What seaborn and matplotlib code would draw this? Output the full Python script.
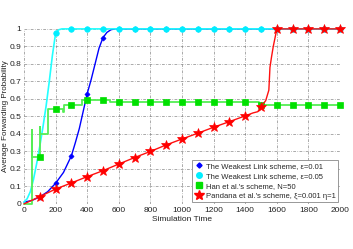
import matplotlib
matplotlib.use('Agg')
import matplotlib.pyplot as plt
from matplotlib.lines import Line2D
import seaborn as sns

# The Weakest Link scheme, eps=0.01
wl1_t = [0, 50, 100, 150, 200, 250, 300, 325, 350, 375, 400, 425, 450, 475, 500, 525, 550, 575,
         600, 700, 800, 900, 1000, 1100, 1200, 1300, 1400, 1500, 1600, 1700, 1800, 1900, 2000]
wl1_p = [0.01, 0.02, 0.04, 0.07, 0.118, 0.18, 0.275, 0.35, 0.43, 0.53, 0.63, 0.71, 0.80, 0.89, 0.95, 0.98, 0.995, 1.0,
         1, 1, 1, 1, 1, 1, 1, 1, 1, 1, 1, 1, 1, 1, 1]

# The Weakest Link scheme, eps=0.05
wl5_t = [0, 20, 40, 60, 80, 100, 120, 140, 160, 180, 200, 220, 240, 300, 400, 500, 600, 700, 800,
         900, 1000, 1100, 1200, 1300, 1400, 1500, 1600, 1700, 1800, 1900, 2000]
wl5_p = [0.01, 0.03, 0.07, 0.14, 0.23, 0.33, 0.44, 0.56, 0.70, 0.85, 0.975, 0.995, 1, 1, 1, 1, 1, 1, 1,
         1, 1, 1, 1, 1, 1, 1, 1, 1, 1, 1, 1]

# Han et al.'s scheme, N=50
han_t = [0, 50, 50, 53, 53, 100, 100, 103, 103, 150, 150, 200, 250, 250, 255, 255, 300, 365, 365, 400,
         500, 545, 545, 600, 700, 800, 900, 1000, 1100, 1200, 1300, 1400, 1490, 1490, 1500, 1600, 1700,
         1800, 1900, 2000]
han_p = [0, 0, 0.42, 0.42, 0.266, 0.266, 0.44, 0.44, 0.40, 0.40, 0.545, 0.545, 0.545, 0.524, 0.524, 0.568, 0.568,
         0.568, 0.594, 0.594, 0.594, 0.594, 0.585, 0.585, 0.585, 0.585, 0.585, 0.585, 0.585, 0.585, 0.585, 0.585,
         0.585, 0.566, 0.566, 0.566, 0.566, 0.566, 0.566, 0.566]

# Pandana et al.'s scheme
pan_t = [0, 100, 200, 300, 400, 500, 600, 700, 800, 900, 1000, 1100, 1200, 1300, 1400, 1450, 1480, 1500,
         1530, 1550, 1557, 1567, 1578, 1595, 1610, 1600, 1700, 1800, 1900, 2000]
pan_p = [0, 0.042, 0.085, 0.12, 0.156, 0.19, 0.228, 0.265, 0.30, 0.337, 0.371, 0.404, 0.438, 0.47, 0.503,
         0.52, 0.527, 0.556, 0.59, 0.65, 0.78, 0.84, 0.90, 0.975, 1.0, 1, 1, 1, 1, 1]

labels = ['The Weakest Link scheme, \u03b5=0.01',
          'The Weakest Link scheme, \u03b5=0.05',
          "Han et al.'s scheme, N=50",
          "Pandana et al.'s scheme, \u03be=0.001 \u03b7=1"]

x_ticks = list(range(0, 2001, 200))
y_ticks = [i / 10 for i in range(11)]
y_tick_labels = ['0', '0.1', '0.2', '0.3', '0.4', '0.5', '0.6', '0.7', '0.8', '0.9', '1']


def mark_idx(ts, start):
    seen = set()
    idx = []
    for i, t in enumerate(ts):
        if t % 100 == 0 and t >= start and t not in seen:
            seen.add(t)
            idx.append(i)
    return idx


def main():
    sns.set_style('white')
    plt.rcParams['font.family'] = ['Liberation Sans', 'DejaVu Sans']
    fig = plt.figure(figsize=(3.53, 2.49), dpi=100)
    ax = fig.add_axes([0.068, 0.181, 0.895, 0.703])

    series = [
        (wl1_t, wl1_p, '#0000ff', '#0000ff', 'D', 2.6, 1.0, 100),
        (wl5_t, wl5_p, '#22ffff', '#00eeff', 'o', 4.0, 1.2, 200),
        (han_t, han_p, '#55ee55', '#00e000', 's', 3.8, 1.3, 100),
        (pan_t, pan_p, '#ff1010', '#ff0000', '*', 7.5, 1.0, 100),
    ]
    for t, p, lc, mc, mk, ms, lw, start in series:
        sns.lineplot(x=t, y=p, ax=ax, estimator=None, sort=False, color=lc, lw=lw,
                     marker=mk, markersize=ms, markerfacecolor=mc, markeredgecolor=mc,
                     markeredgewidth=0.5, markevery=mark_idx(t, start), clip_on=False)

    ax.set_xlim(0, 2000)
    ax.set_ylim(0, 1)
    ax.set_xticks(x_ticks)
    ax.set_yticks(y_ticks)
    ax.set_yticklabels(y_tick_labels)
    ax.tick_params(labelsize=6, length=0, pad=2, colors='#222222')
    ax.grid(True, color='#888888', lw=0.5, linestyle=(0, (4, 2, 1, 2)))
    for s in ax.spines.values():
        s.set_visible(False)
    ax.set_xlabel('Simulation Time', fontsize=6, color='#222222', labelpad=2)
    ax.set_ylabel('Average Forwarding Probability', fontsize=5.8, color='#222222')
    ax.yaxis.set_label_coords(-0.047, 0.5)

    handles = []
    for t, p, lc, mc, mk, ms, lw, start in series:
        handles.append(Line2D([], [], linestyle='none', marker=mk, markersize=ms,
                              markerfacecolor=mc, markeredgecolor=mc))
    leg = ax.legend(handles, labels, loc='lower right', fontsize=5.5, frameon=True,
                    fancybox=False, framealpha=1, borderpad=0.3, labelspacing=0.35,
                    handletextpad=0.4, handlelength=1.2, borderaxespad=0.2)
    leg.get_frame().set_edgecolor('#888888')
    leg.get_frame().set_linewidth(0.6)

    fig.savefig('out.png', dpi=100)


if __name__ == '__main__':
    main()
